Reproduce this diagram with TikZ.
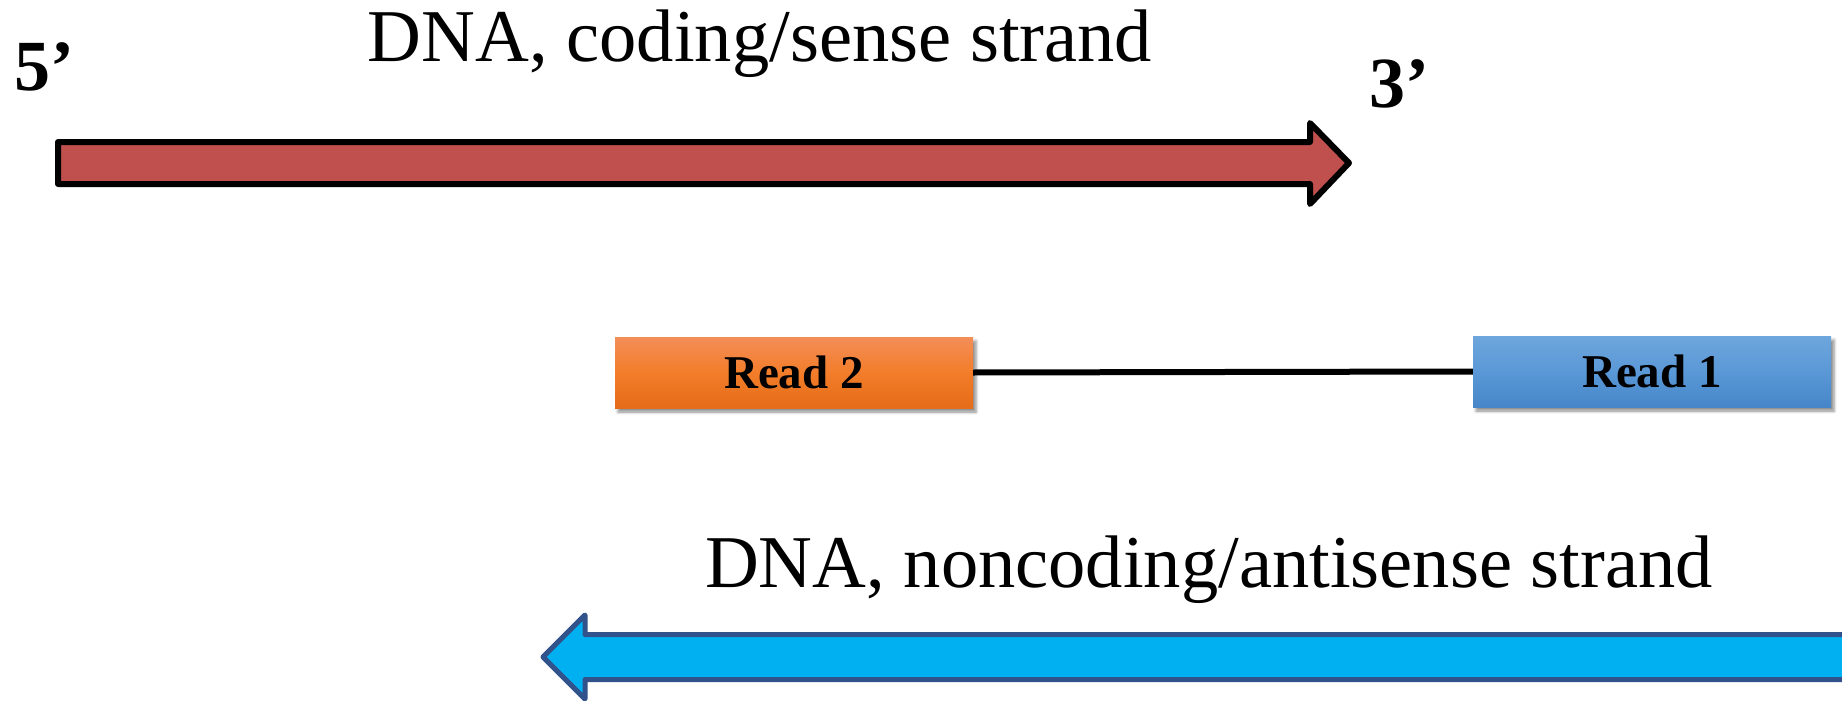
\documentclass[tikz,border=0pt]{standalone}
\usepackage{fontspec}
\setmainfont{Liberation Serif}
\usetikzlibrary{shadows.blur}

\definecolor{strandred}{RGB}{192,80,77}
\definecolor{strandblue}{RGB}{0,176,240}
\definecolor{strandblueline}{RGB}{50,82,140}
\definecolor{orangetop}{RGB}{243,142,88}
\definecolor{orangemid}{RGB}{243,125,42}
\definecolor{orangebot}{RGB}{229,108,25}
\definecolor{bluetop}{RGB}{110,166,220}
\definecolor{bluemid}{RGB}{90,152,215}
\definecolor{bluebot}{RGB}{70,134,200}

\begin{document}
\begin{tikzpicture}[x=1pt,y=-1pt,
  bigtext/.style={font=\fontsize{74.5}{84}\selectfont, inner sep=0pt, anchor=base},
  endlabel/.style={font=\fontsize{72}{80}\selectfont\bfseries, inner sep=0pt, anchor=base west},
  readbox/.style={minimum width=358pt, minimum height=71pt, inner sep=0pt,
    font=\fontsize{47}{50}\selectfont\bfseries,
    blur shadow={shadow xshift=3pt, shadow yshift=-4pt, shadow blur radius=3pt, shadow opacity=45}},
  sensearrow/.style={fill=strandred, draw=black, line width=6pt, line join=round},
  antiarrow/.style={fill=strandblue, draw=strandblueline, line width=5pt, line join=round},
  insert/.style={draw=black, line width=6pt}]

\useasboundingbox (0,0) rectangle (1842,701);

% coding strand, 5' -> 3'
\draw[sensearrow] (58,142) -- (1310,142) -- (1310,123) -- (1349,163)
  -- (1310,204) -- (1310,184) -- (58,184) -- cycle;

% noncoding strand, running right to left
\begin{scope}
  \clip (0,0) rectangle (1842,701);
  \draw[antiarrow] (1870,634.5) -- (585,634.5) -- (585,615) -- (543,657)
    -- (585,699) -- (585,679.5) -- (1870,679.5) -- cycle;
\end{scope}

% strand labels
\node[bigtext] (codingtitle) at (760,62) {DNA, coding/sense strand};
\node[endlabel] (fiveprime) at (14,91) {5’};
\node[endlabel] (threeprime) at (1369,107) {3’};
\node[bigtext] (noncodingtitle) at (1209,587) {DNA, noncoding/antisense strand};

% paired-end reads joined by the insert
\node[readbox, top color=orangetop, bottom color=orangebot, middle color=orangemid]
  (read2) at (794,372.5) {Read 2};
\node[readbox, top color=bluetop, bottom color=bluebot, middle color=bluemid]
  (read1) at (1652,371.5) {Read 1};
\draw[insert] (read2.east) -- (read1.west);

\end{tikzpicture}
\end{document}
